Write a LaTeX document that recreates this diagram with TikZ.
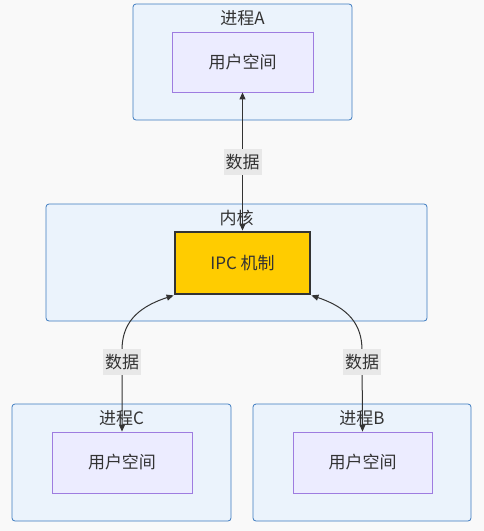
\documentclass[tikz,border=0pt]{standalone}
\usepackage{fontspec}
\setmainfont{Noto Sans CJK SC}
\usetikzlibrary{arrows.meta}
\definecolor{bgc}{HTML}{F9F9F9}
\definecolor{clfill}{HTML}{EBF3FC}
\definecolor{cldraw}{HTML}{3D7BC0}
\definecolor{infill}{HTML}{ECECFF}
\definecolor{indraw}{HTML}{9E7CE0}
\definecolor{ipcfill}{HTML}{FFCC00}
\definecolor{dark}{HTML}{333333}
\definecolor{lblbg}{HTML}{E8E8E8}
\tikzset{
  cluster/.style={draw=cldraw, fill=clfill, rounded corners=3pt, line width=0.8pt},
  inner/.style={draw=indraw, fill=infill, line width=0.8pt, text=dark},
  ttl/.style={text=dark, font=\fontsize{17}{19}\selectfont},
  txt/.style={font=\fontsize{17}{19}\selectfont},
  ipc/.style={draw=dark, fill=ipcfill, line width=2.8pt, text=dark},
  conn/.style={draw=dark, line width=1pt, {Triangle[length=7pt,width=6pt]}-{Triangle[length=7pt,width=6pt]}},
  lbl/.style={fill=lblbg, text=dark, inner sep=2pt, minimum width=37pt, minimum height=26pt, font=\fontsize{17}{19}\selectfont}
}
\begin{document}
\begin{tikzpicture}[x=1pt,y=-1pt]
\useasboundingbox (0,0) rectangle (484,531);
\fill[bgc] (0,0) rectangle (484,531);
% clusters
\draw[cluster] (133,4) rectangle (352,120);
\node[ttl] (tA) at (242.5,18) {进程A};
\draw[cluster] (46,204) rectangle (427,321);
\node[ttl] (tK) at (236.5,218) {内核};
\draw[cluster] (12,404) rectangle (231,521);
\node[ttl] (tC) at (121.5,418) {进程C};
\draw[cluster] (253,404) rectangle (471,521);
\node[ttl] (tB) at (362,418) {进程B};
% inner nodes
\node[inner, txt, minimum width=141pt, minimum height=60pt] (uA) at (242.5,62) {用户空间};
\node[ipc, txt, minimum width=135pt, minimum height=62pt] (ipc) at (242.5,263) {IPC 机制};
\node[inner, txt, minimum width=140pt, minimum height=61pt] (uC) at (122,462.5) {用户空间};
\node[inner, txt, minimum width=139pt, minimum height=61pt] (uB) at (362.5,462.5) {用户空间};
% connectors
\draw[conn] (ipc.north) -- (uA.south);
\node[lbl] (lA) at (242.5,162) {数据};
\coordinate (cL) at (122,350);
\coordinate (cR) at (362,350);
\draw[conn] (ipc.south west) .. controls (135,308) and (122,325) .. (cL) -- (uC.north);
\draw[conn] (ipc.south east) .. controls (349,308) and (362,325) .. (cR) -- (uB.north);
\node[lbl] (lC) at (122,362) {数据};
\node[lbl] (lB) at (362,362) {数据};
\end{tikzpicture}
\end{document}
